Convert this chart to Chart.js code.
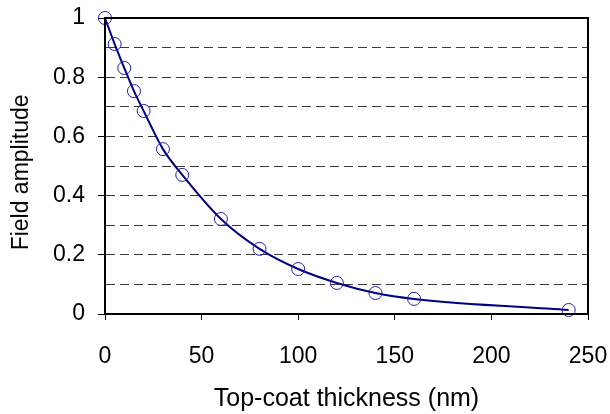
<!DOCTYPE html>
<html>
<head>
<meta charset="utf-8">
<script src="https://cdn.jsdelivr.net/npm/chart.js@4/dist/chart.umd.min.js"></script>
<style>
html,body{margin:0;padding:0;background:#fff;}
#wrap{width:610px;height:414px;}
</style>
</head>
<body>
<div id="wrap"><canvas id="c" width="610" height="414"></canvas></div>
<script>
const thickness = [0, 5, 10, 15, 20, 30, 40, 60, 80, 100, 120, 140, 160, 240];
const amplitude = [1.0, 0.912, 0.831, 0.753, 0.686, 0.557, 0.47, 0.321, 0.22, 0.152, 0.105, 0.071, 0.051, 0.0135];
const xTicks = [0, 50, 100, 150, 200, 250];
const yTicks = [0, 0.2, 0.4, 0.6, 0.8, 1];

const points = thickness.map((x, i) => ({x: x, y: amplitude[i]}));
const FONT = 'Liberation Sans, Arial, sans-serif';

const frame = {
  id: 'frame',
  afterDraw(chart) {
    const a = chart.chartArea, ctx = chart.ctx;
    ctx.save();
    ctx.strokeStyle = '#000';
    ctx.lineWidth = 2;
    ctx.strokeRect(a.left, a.top, a.right - a.left, a.bottom - a.top);
    ctx.restore();
  }
};

const isMajor = v => yTicks.some(t => Math.abs(t - v) < 1e-6);

new Chart(document.getElementById('c'), {
  type: 'line',
  data: {
    datasets: [{
      data: points,
      borderColor: '#000080',
      borderWidth: 2,
      cubicInterpolationMode: 'monotone',
      pointRadius: 6.5,
      pointBorderWidth: 1,
      pointBorderColor: '#2020a8',
      pointBackgroundColor: 'rgba(0,0,0,0)',
      pointStyle: 'circle',
      clip: false
    }]
  },
  options: {
    responsive: false,
    animation: false,
    layout: {padding: {top: 18, right: 22, left: 0, bottom: 0}},
    plugins: {legend: {display: false}, tooltip: {enabled: false}},
    scales: {
      x: {
        type: 'linear',
        min: 0, max: 250,
        afterBuildTicks: s => { s.ticks = xTicks.map(v => ({value: v})); },
        afterFit: s => { s.height = 100; s.paddingLeft = 0; s.paddingRight = 0; },
        grid: {drawOnChartArea: false, drawTicks: true, tickLength: 6, color: '#000', lineWidth: 1},
        border: {display: true, color: '#000', width: 2},
        ticks: {padding: 23, color: '#000', font: {family: FONT, size: 23}, maxRotation: 0, autoSkip: false},
        title: {display: true, text: 'Top-coat thickness (nm)', color: '#000', font: {family: FONT, size: 25}, padding: {top: 0, bottom: 0}}
      },
      y: {
        type: 'linear',
        min: 0, max: 1,
        afterBuildTicks: s => {
          const t = [];
          for (let i = 0; i <= 10; i++) t.push({value: i / 10});
          s.ticks = t;
        },
        afterFit: s => { s.width = 105; s.paddingTop = 0; s.paddingBottom = 0; },
        grid: {
          drawOnChartArea: true, drawTicks: true, tickLength: 7,
          color: ctx => (ctx.tick && (ctx.tick.value === 0 || ctx.tick.value === 1)) ? 'rgba(0,0,0,0)' : '#3a3a3a',
          tickColor: ctx => (ctx.tick && isMajor(ctx.tick.value)) ? '#000' : 'rgba(0,0,0,0)',
          lineWidth: 1
        },
        border: {display: true, color: '#000', width: 2, dash: [9, 5]},
        ticks: {
          padding: 13, color: '#000', font: {family: FONT, size: 23}, autoSkip: false,
          callback: v => isMajor(v) ? String(Math.round(v * 10) / 10) : ''
        },
        title: {display: true, text: 'Field amplitude  ', color: '#000', font: {family: FONT, size: 23}, padding: {top: 8, bottom: 0}}
      }
    }
  },
  plugins: [frame]
});
</script>
</body>
</html>
